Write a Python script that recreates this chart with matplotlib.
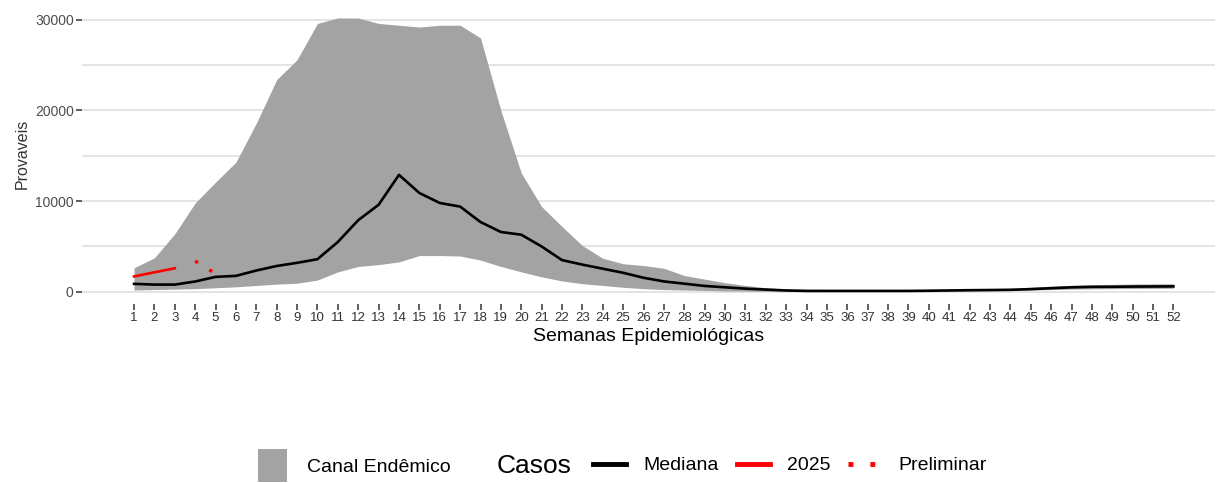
import numpy as np
import matplotlib
matplotlib.use("Agg")
import matplotlib.pyplot as plt
from matplotlib.patches import Patch
from matplotlib.lines import Line2D

plt.rcParams['font.family'] = ['Liberation Sans Narrow', 'Liberation Sans', 'DejaVu Sans']

# Data
weeks = list(range(1, 53))
upper = [2650, 3750, 6400, 9800, 12100, 14300, 18600, 23400, 25600, 29600,
         30200, 30200, 29600, 29400, 29200, 29400, 29400, 28000, 20000, 13100,
         9400, 7200, 5100, 3700, 3100, 2900, 2600, 1800, 1400, 1000,
         700, 450, 320, 280, 260, 250, 250, 250, 260, 280,
         300, 330, 360, 400, 500, 620, 720, 780, 820, 860, 880, 900]
lower = [200, 250, 300, 350, 450, 550, 700, 850, 950, 1300,
         2200, 2800, 3000, 3300, 4000, 4000, 3950, 3500, 2800, 2200,
         1650, 1200, 900, 700, 500, 350, 250, 200, 150, 100,
         80, 60, 50, 50, 50, 50, 50, 50, 50, 60,
         80, 100, 120, 150, 200, 250, 300, 330, 350, 370, 380, 400]
median = [880, 800, 800, 1140, 1650, 1760, 2350, 2850, 3200, 3600,
          5500, 7900, 9600, 12900, 10900, 9800, 9400, 7700, 6600, 6300,
          5000, 3500, 3000, 2550, 2100, 1550, 1150, 900, 650, 500,
          350, 250, 150, 100, 100, 100, 100, 100, 100, 120,
          150, 180, 200, 220, 300, 400, 500, 550, 560, 580, 590, 600]
weeks_2025 = [1, 2, 3]
cases_2025 = [1700, 2150, 2600]
weeks_prelim = [4, 5]
cases_prelim = [3400, 2000]

band_color = "#a3a3a3"
grid_color = "#dcdcdc"

fig = plt.figure(figsize=(12.25, 4.83), dpi=100)
ax = fig.add_axes([0.067, 0.371, 0.925, 0.619])

ax.fill_between(weeks, lower, upper, color=band_color, linewidth=0, zorder=2)
ax.plot(weeks, median, color="black", linewidth=1.9, zorder=3)
ax.plot(weeks_2025, cases_2025, color="red", linewidth=1.9, zorder=4)
ax.plot(weeks_prelim, cases_prelim, color="red", linewidth=2.4,
        linestyle=(0, (1, 4)), zorder=4)

ax.set_xlim(-1.55, 54.05)
ax.set_ylim(-1320, 31650)
ax.set_xticks(weeks)
ax.set_xticklabels([str(w) for w in weeks], fontsize=9.5, color="#333333")
ax.set_yticks([0, 10000, 20000, 30000])
ax.set_yticklabels(["0", "10000", "20000", "30000"], fontsize=10, color="#4d4d4d")
for y in range(0, 30001, 5000):
    ax.axhline(y, color=grid_color, linewidth=1.1, zorder=1)
ax.tick_params(axis="both", length=4, width=1.1, color="#333333", pad=2)

for s in ax.spines.values():
    s.set_visible(False)

ax.set_xlabel("Semanas Epidemiológicas", fontsize=14, labelpad=3)
ax.set_ylabel("Provaveis", fontsize=11.5, color="#333333", labelpad=4)

# Legend
h_band = [Patch(facecolor=band_color, edgecolor="none")]
fig.legend(h_band, ["Canal Endêmico"], loc="center", bbox_to_anchor=(0.289, 0.036),
           frameon=False, fontsize=14, handlelength=1.5, handleheight=2.2,
           handletextpad=1.0)
fig.text(0.405, 0.036, "Casos", fontsize=19, va="center", ha="left")
h_cases = [Line2D([], [], color="black", linewidth=3.5),
           Line2D([], [], color="red", linewidth=3.5),
           Line2D([], [], color="red", linewidth=3.5, linestyle=(0, (1, 3.5)))]
fig.legend(h_cases, ["Mediana", "2025", "Preliminar"], loc="center",
           bbox_to_anchor=(0.645, 0.036), ncol=3, frameon=False, fontsize=14,
           handlelength=1.7, handletextpad=0.9, columnspacing=0.9)

fig.savefig("out.png", dpi=100)
